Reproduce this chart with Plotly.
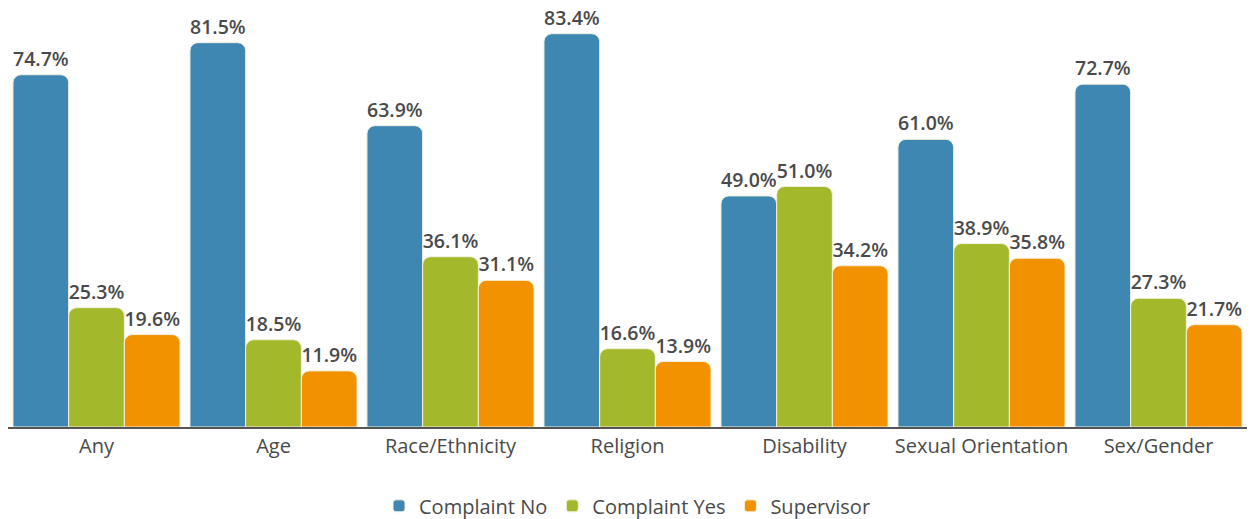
import plotly.graph_objects as go

categories = ["Any", "Age", "Race/Ethnicity", "Religion", "Disability", "Sexual Orientation", "Sex/Gender"]
complaint_no = [74.7, 81.5, 63.9, 83.4, 49.0, 61.0, 72.7]
complaint_yes = [25.3, 18.5, 36.1, 16.6, 51.0, 38.9, 27.3]
supervisor = [19.6, 11.9, 31.1, 13.9, 34.2, 35.8, 21.7]

series = [
    ("Complaint No", complaint_no, "#3F87B3"),
    ("Complaint Yes", complaint_yes, "#A3B82B"),
    ("Supervisor", supervisor, "#F39200"),
]

fig = go.Figure()
for name, vals, color in series:
    fig.add_trace(go.Bar(
        name=name, x=categories, y=vals,
        marker=dict(color=color, line=dict(color="#F4F1DC", width=1)),
        text=[f"{v:.1f}%" for v in vals],
        textposition="outside",
        textfont=dict(family="Open Sans", size=20, color="#4A4A4A", weight=600),
        cliponaxis=False,
    ))

fig.update_layout(
    barmode="group",
    bargap=0.056,
    bargroupgap=0,
    barcornerradius=8,
    width=1260, height=519,
    margin=dict(l=8, r=13, t=12, b=92, autoexpand=False),
    paper_bgcolor="white",
    plot_bgcolor="white",
    font=dict(family="Open Sans", color="#4A4A4A"),
    showlegend=True,
    legend=dict(orientation="h", x=0.5, xanchor="center", y=-0.19, yanchor="middle",
                font=dict(family="Open Sans", size=20, color="#4A4A4A"), traceorder="normal",
                itemwidth=30),
    xaxis=dict(showline=True, linecolor="#555555", linewidth=2,
               tickfont=dict(family="Open Sans", size=20, color="#4A4A4A"), ticks=""),
    yaxis=dict(range=[0, 88], visible=False, showgrid=False, zeroline=False),
)

fig.write_html("out.html",
               config={"displayModeBar": False},
               post_script="document.body.style.margin='0';document.body.style.overflow='hidden';")
